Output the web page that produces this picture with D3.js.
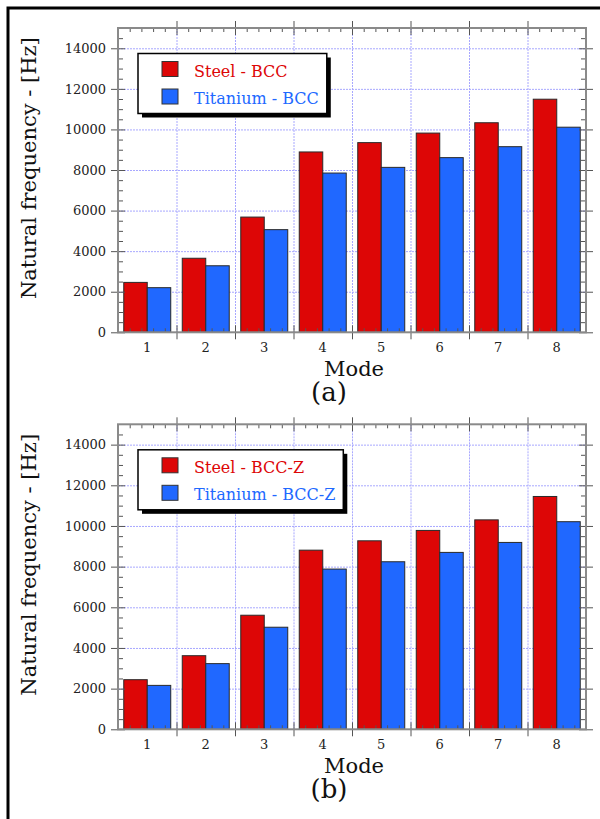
<!DOCTYPE html>
<html>
<head>
<meta charset="utf-8">
<script src="https://cdn.jsdelivr.net/npm/d3@7"></script>
<style>
  body { margin: 0; background: #fff; }
  svg { display: block; }
</style>
</head>
<body>
<div id="chart"></div>
<script>
const modes = ["1", "2", "3", "4", "5", "6", "7", "8"];
const steelBCC = [2460, 3650, 5680, 8890, 9350, 9820, 10330, 11490];
const titaniumBCC = [2200, 3280, 5060, 7850, 8130, 8610, 9150, 10110];
const steelBCCZ = [2440, 3620, 5610, 8810, 9270, 9780, 10300, 11450];
const titaniumBCCZ = [2160, 3230, 5020, 7880, 8240, 8700, 9190, 10210];
const yTicks = [0, 2000, 4000, 6000, 8000, 10000, 12000, 14000];
const yMax = 15000;

const width = 600;
const height = 819;
const font = "'DejaVu Serif', serif";
const red = "#dd0606";
const blue = "#2068ff";

const svg = d3.select("#chart")
  .append("svg")
  .attr("width", width)
  .attr("height", height);

svg.append("rect").attr("width", width).attr("height", height).attr("fill", "#fff");

// figure frame (cut at right/bottom)
svg.append("path")
  .attr("d", `M8,${height} V8 H${width}`)
  .attr("fill", "none")
  .attr("stroke", "#000")
  .attr("stroke-width", 3);

const left = 118, right = 586;

const drawPanel = function(top, bottom, steel, titanium, names, letter){
  const g = svg.append("g").attr("font-family", font);

  const x = d3.scaleBand().domain(modes).range([left, right]).padding(0);
  const xb = d3.scaleLinear().domain([0, modes.length]).range([left, right]);
  const xs = d3.scaleBand().domain([0, 1]).range([0, x.bandwidth()])
    .paddingInner(0).paddingOuter(0.245);
  const y = d3.scaleLinear().domain([0, yMax]).range([bottom, top]);

  const yMinor = d3.range(0, yMax + 1, 500).filter(d => d % 2000 !== 0 && d < yMax);
  const xMinor = d3.range(0, modes.length * 5).filter(d => d % 5 !== 0).map(d => d / 5);
  const xMajor = d3.range(1, modes.length);

  // grid
  const grid = g.append("g")
    .attr("stroke", "#a8a8ff")
    .attr("stroke-width", 1)
    .attr("stroke-dasharray", "2,1");
  grid.selectAll(".h").data(yTicks.filter(d => d > 0)).join("line")
    .attr("x1", left).attr("x2", right)
    .attr("y1", d => y(d) + 0.5).attr("y2", d => y(d) + 0.5);
  grid.selectAll(".v").data(xMajor).join("line")
    .attr("y1", top).attr("y2", bottom)
    .attr("x1", d => xb(d) + 0.5).attr("x2", d => xb(d) + 0.5);

  // bars
  const series = [steel, titanium];
  const colors = [red, blue];
  g.append("g").selectAll("g").data(series).join("g")
    .attr("fill", (d, i) => colors[i])
    .attr("stroke", "#2a2a2a")
    .attr("stroke-width", 1)
    .each(function(vals, si){
      d3.select(this).selectAll("rect").data(vals).join("rect")
        .attr("x", (v, i) => x(modes[i]) + xs(si))
        .attr("width", xs.bandwidth())
        .attr("y", v => y(v))
        .attr("height", v => y(0) - y(v));
    });

  // axes
  const ax = g.append("g");
  const styleAxis = sel => {
    sel.selectAll(".domain").remove();
    sel.selectAll(".tick line").attr("stroke", "#555").attr("stroke-width", 1);
  };
  // left
  ax.append("g").attr("transform", `translate(${left},0)`)
    .call(d3.axisLeft(y).tickValues(yTicks).tickSize(7).tickPadding(5).tickFormat(d3.format("d")))
    .call(styleAxis)
    .call(a => a.selectAll("text").attr("font-family", font).attr("font-size", 13).attr("fill", "#222"));
  ax.append("g").attr("transform", `translate(${left},0)`)
    .call(d3.axisRight(y).tickValues(yTicks).tickSize(7).tickFormat(""))
    .call(styleAxis);
  ax.append("g").attr("transform", `translate(${left},0)`)
    .call(d3.axisRight(y).tickValues(yMinor).tickSize(5).tickFormat(""))
    .call(styleAxis);
  // right
  ax.append("g").attr("transform", `translate(${right},0)`)
    .call(d3.axisRight(y).tickValues(yTicks).tickSize(7).tickFormat(""))
    .call(styleAxis);
  ax.append("g").attr("transform", `translate(${right},0)`)
    .call(d3.axisLeft(y).tickValues(yTicks).tickSize(7).tickFormat(""))
    .call(styleAxis);
  ax.append("g").attr("transform", `translate(${right},0)`)
    .call(d3.axisLeft(y).tickValues(yMinor).tickSize(5).tickFormat(""))
    .call(styleAxis);
  // bottom
  ax.append("g").attr("transform", `translate(0,${bottom})`)
    .call(d3.axisBottom(xb).tickValues(xMajor).tickSize(7).tickFormat(""))
    .call(styleAxis);
  ax.append("g").attr("transform", `translate(0,${bottom})`)
    .call(d3.axisTop(xb).tickValues(xMajor).tickSize(7).tickFormat(""))
    .call(styleAxis);
  ax.append("g").attr("transform", `translate(0,${bottom})`)
    .call(d3.axisTop(xb).tickValues(xMinor).tickSize(4).tickFormat(""))
    .call(styleAxis);
  ax.append("g").attr("transform", `translate(0,${bottom})`)
    .call(d3.axisBottom(x).tickSize(0).tickPadding(10))
    .call(a => a.select(".domain").remove())
    .call(a => a.selectAll("text").attr("font-family", font).attr("font-size", 13).attr("fill", "#222"));
  // top
  ax.append("g").attr("transform", `translate(0,${top})`)
    .call(d3.axisTop(xb).tickValues(xMajor).tickSize(7).tickFormat(""))
    .call(styleAxis);
  ax.append("g").attr("transform", `translate(0,${top})`)
    .call(d3.axisBottom(xb).tickValues(xMajor).tickSize(7).tickFormat(""))
    .call(styleAxis);
  ax.append("g").attr("transform", `translate(0,${top})`)
    .call(d3.axisBottom(xb).tickValues(xMinor).tickSize(4).tickFormat(""))
    .call(styleAxis);

  // frame lines
  ax.append("rect")
    .attr("x", left).attr("y", top)
    .attr("width", right - left).attr("height", bottom - top)
    .attr("fill", "none")
    .attr("stroke", "#8a8a8a")
    .attr("stroke-width", 2);

  // labels
  g.append("text")
    .attr("transform", `translate(36,${(top + bottom) / 2 - 12}) rotate(-90)`)
    .attr("text-anchor", "middle")
    .attr("font-size", 21)
    .attr("fill", "#111")
    .text("Natural frequency - [Hz]");
  g.append("text")
    .attr("x", (left + right) / 2 + 2)
    .attr("y", bottom + 44)
    .attr("text-anchor", "middle")
    .attr("font-size", 21)
    .attr("fill", "#111")
    .text("Mode");
  g.append("text")
    .attr("x", 329)
    .attr("y", bottom + 69)
    .attr("text-anchor", "middle")
    .attr("font-size", 26)
    .attr("fill", "#111")
    .text(letter);

  // legend
  const lx = 138, ly = top + 25.5, lh = 60;
  const leg = g.append("g");
  const shadow = leg.append("rect").attr("fill", "#000");
  const box = leg.append("rect").attr("fill", "#fff").attr("stroke", "#000").attr("stroke-width", 1.5);
  const items = leg.selectAll("g").data(names).join("g")
    .attr("transform", (d, i) => `translate(0,${ly + 8 + i * 27.5})`);
  items.append("rect")
    .attr("x", 162).attr("y", 0)
    .attr("width", 16).attr("height", 15)
    .attr("fill", (d, i) => colors[i])
    .attr("stroke", "#333").attr("stroke-width", 1);
  const texts = items.append("text")
    .attr("x", 194).attr("y", 15)
    .attr("font-size", 16)
    .attr("fill", (d, i) => colors[i])
    .text(d => d);
  let maxEnd = 0;
  texts.each(function(){ maxEnd = Math.max(maxEnd, 194 + this.getComputedTextLength()); });
  const lw = maxEnd + 8 - lx;
  box.attr("x", lx).attr("y", ly).attr("width", lw).attr("height", lh);
  shadow.attr("x", lx + 4).attr("y", ly + 4).attr("width", lw).attr("height", lh);
};

drawPanel(28, 332.3, steelBCC, titaniumBCC, ["Steel - BCC", "Titanium - BCC"], "(a)");
drawPanel(424.3, 729.3, steelBCCZ, titaniumBCCZ, ["Steel - BCC-Z", "Titanium - BCC-Z"], "(b)");
</script>
</body>
</html>
